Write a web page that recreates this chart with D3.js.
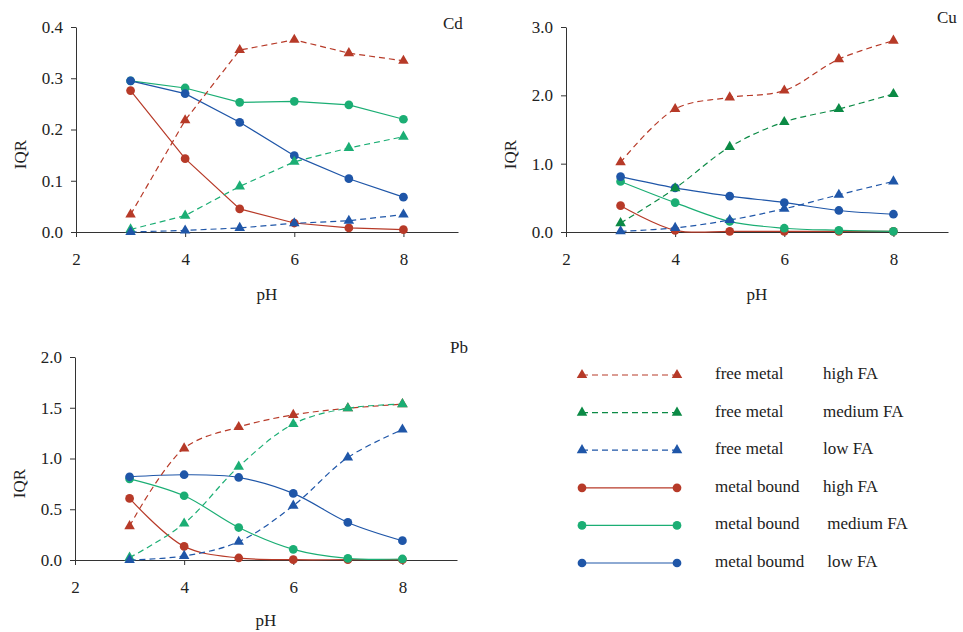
<!DOCTYPE html>
<html>
<head>
<meta charset="utf-8">
<script src="https://cdn.jsdelivr.net/npm/d3@7"></script>
<style>
  html, body { margin: 0; padding: 0; background: #fff; }
  svg { display: block; }
  text { font-family: "Liberation Serif", "Times New Roman", serif; fill: #222; }
</style>
</head>
<body>
<svg id="chart" width="963" height="632"></svg>
<script>
// ---- data ----
const pH = [3, 4, 5, 6, 7, 8];
const xTicks = [2, 4, 6, 8];

const cdTicks = [0, 0.1, 0.2, 0.3, 0.4];
const cdFreeHigh   = [0.034, 0.218, 0.355, 0.375, 0.349, 0.334];
const cdFreeMed    = [0.005, 0.032, 0.089, 0.137, 0.164, 0.186];
const cdFreeLow    = [0.000, 0.003, 0.008, 0.017, 0.022, 0.034];
const cdBoundHigh  = [0.276, 0.143, 0.045, 0.0175, 0.008, 0.0045];
const cdBoundMed   = [0.295, 0.281, 0.253, 0.255, 0.248, 0.220];
const cdBoundLow   = [0.295, 0.270, 0.214, 0.149, 0.104, 0.068];

const cuTicks = [0, 1, 2, 3];
const cuFreeHigh   = [1.02, 1.80, 1.97, 2.07, 2.53, 2.80];
const cuFreeMed    = [0.13, 0.64, 1.245, 1.61, 1.80, 2.02];
const cuFreeLow    = [0.01, 0.06, 0.175, 0.34, 0.545, 0.74];
const cuBoundHigh  = [0.385, 0.025, 0.01, 0.01, 0.01, 0.01];
const cuBoundMed   = [0.74, 0.43, 0.155, 0.055, 0.025, 0.01];
const cuBoundLow   = [0.81, 0.645, 0.525, 0.43, 0.315, 0.26];

const pbTicks = [0, 0.5, 1.0, 1.5, 2.0];
const pbFreeHigh   = [0.334, 1.10, 1.31, 1.43, 1.495, 1.535];
const pbFreeMed    = [0.023, 0.36, 0.92, 1.34, 1.495, 1.535];
const pbFreeLow    = [0.000, 0.04, 0.18, 0.535, 1.01, 1.285];
const pbBoundHigh  = [0.607, 0.134, 0.02, 0.003, 0.003, 0.003];
const pbBoundMed   = [0.80, 0.633, 0.32, 0.105, 0.016, 0.01];
const pbBoundLow   = [0.82, 0.84, 0.813, 0.656, 0.37, 0.19];

const legendNames = ["free metal", "free metal", "free metal", "metal bound", "metal bound", "metal boumd"];
const legendLevels = ["high FA", "medium FA", "low FA", "high FA", " medium FA", " low FA"];

// ---- styles ----
const RED = "#b73a28", GREEN_D = "#0b8a45", GREEN_L = "#1bae74", BLUE = "#1f56a8";
const FONT = '"Liberation Serif", "Times New Roman", serif';

const svg = d3.select("#chart");

function panel(cfg) {
  const x = d3.scaleLinear().domain([2, 9]).range([cfg.left, cfg.left + 382]);
  const y = d3.scaleLinear().domain([0, cfg.yMax]).range([cfg.bottom, cfg.top]);
  const g = svg.append("g");

  const yAxis = d3.axisLeft(y).tickValues(cfg.yTicks).tickFormat(d3.format(".1f"))
    .tickSize(5).tickSizeOuter(0).tickPadding(8);
  const ga = g.append("g").attr("transform", `translate(${cfg.left},0)`).call(yAxis);
  const xAxis = d3.axisBottom(x).tickValues(xTicks).tickFormat(d3.format("d"))
    .tickSize(5).tickSizeOuter(0).tickPadding(16);
  const gx = g.append("g").attr("transform", `translate(0,${cfg.bottom})`).call(xAxis);
  [ga, gx].forEach(a => {
    a.attr("font-family", FONT).attr("font-size", 17);
    a.selectAll("path,line").attr("stroke", "#333").attr("stroke-width", 1);
    a.selectAll("text").attr("fill", "#222").style("font-family", FONT).style("font-size", "17px");
  });

  g.append("text").attr("transform", `translate(${cfg.left - 56},${(cfg.top + cfg.bottom) / 2 + 25}) rotate(-90)`)
    .attr("text-anchor", "middle").attr("font-size", 17).attr("dy", "0.35em").text("IQR");
  g.append("text").attr("x", x(5.5)).attr("y", cfg.bottom + cfg.pHdy)
    .attr("text-anchor", "middle").attr("font-size", 17).text("pH");
  g.append("text").attr("x", cfg.titleX).attr("y", cfg.titleY)
    .attr("font-size", 17).text(cfg.title);

  const line = d3.line().x((d, i) => x(pH[i])).y(d => y(d)).curve(cfg.curve);
  const tri = d3.symbol().type(d3.symbolTriangle).size(48);

  cfg.series.forEach(s => {
    g.append("path").attr("d", line(s.values)).attr("fill", "none")
      .attr("stroke", s.color).attr("stroke-width", 1.2)
      .attr("stroke-dasharray", s.dashed ? "6,4" : null);
    g.selectAll(null).data(s.values).enter().append("path")
      .attr("transform", (d, i) => `translate(${x(pH[i])},${y(d)})`)
      .attr("d", s.dashed ? tri : d3.symbol().type(d3.symbolCircle).size(60))
      .attr("fill", s.color);
  });
}

panel({
  left: 76, top: 27, bottom: 232, yMax: 0.4, yTicks: cdTicks, pHdy: 68,
  title: "Cd", titleX: 443, titleY: 29, curve: d3.curveLinear,
  series: [
    { values: cdBoundHigh, color: RED, dashed: false },
    { values: cdBoundMed, color: GREEN_L, dashed: false },
    { values: cdBoundLow, color: BLUE, dashed: false },
    { values: cdFreeHigh, color: RED, dashed: true },
    { values: cdFreeMed, color: GREEN_L, dashed: true },
    { values: cdFreeLow, color: BLUE, dashed: true }
  ]
});

panel({
  left: 566, top: 27, bottom: 232, yMax: 3.0, yTicks: cuTicks, pHdy: 68,
  title: "Cu", titleX: 937, titleY: 23, curve: d3.curveCatmullRom.alpha(0.5),
  series: [
    { values: cuBoundHigh, color: RED, dashed: false },
    { values: cuBoundMed, color: GREEN_L, dashed: false },
    { values: cuBoundLow, color: BLUE, dashed: false },
    { values: cuFreeHigh, color: RED, dashed: true },
    { values: cuFreeMed, color: GREEN_D, dashed: true },
    { values: cuFreeLow, color: BLUE, dashed: true }
  ]
});

panel({
  left: 75, top: 357, bottom: 560, yMax: 2.0, yTicks: pbTicks, pHdy: 66,
  title: "Pb", titleX: 450, titleY: 353, curve: d3.curveCatmullRom.alpha(0.5),
  series: [
    { values: pbBoundHigh, color: RED, dashed: false },
    { values: pbBoundMed, color: GREEN_L, dashed: false },
    { values: pbBoundLow, color: BLUE, dashed: false },
    { values: pbFreeHigh, color: RED, dashed: true },
    { values: pbFreeMed, color: GREEN_L, dashed: true },
    { values: pbFreeLow, color: BLUE, dashed: true }
  ]
});

// ---- legend ----
const legendColors = [RED, GREEN_D, BLUE, RED, GREEN_L, BLUE];
const legendDashed = [true, true, true, false, false, false];
const legendY = d3.scalePoint().domain(d3.range(6)).range([375, 563]);
const lg = svg.append("g");
d3.range(6).forEach(i => {
  const yy = legendY(i);
  lg.append("line").attr("x1", 582).attr("x2", 677).attr("y1", yy).attr("y2", yy)
    .attr("stroke", legendColors[i]).attr("stroke-width", 1.2)
    .attr("stroke-dasharray", legendDashed[i] ? "6,4" : null);
  [582, 677].forEach(px => {
    lg.append("path").attr("transform", `translate(${px},${yy})`)
      .attr("d", legendDashed[i] ? d3.symbol().type(d3.symbolTriangle).size(48)()
                                 : d3.symbol().type(d3.symbolCircle).size(60)())
      .attr("fill", legendColors[i]);
  });
  lg.append("text").attr("x", 715).attr("y", yy + 4).attr("font-size", 17).text(legendNames[i]);
  lg.append("text").attr("x", 823).attr("y", yy + 4).attr("font-size", 17)
    .style("white-space", "pre").text(legendLevels[i]);
});
</script>
</body>
</html>
